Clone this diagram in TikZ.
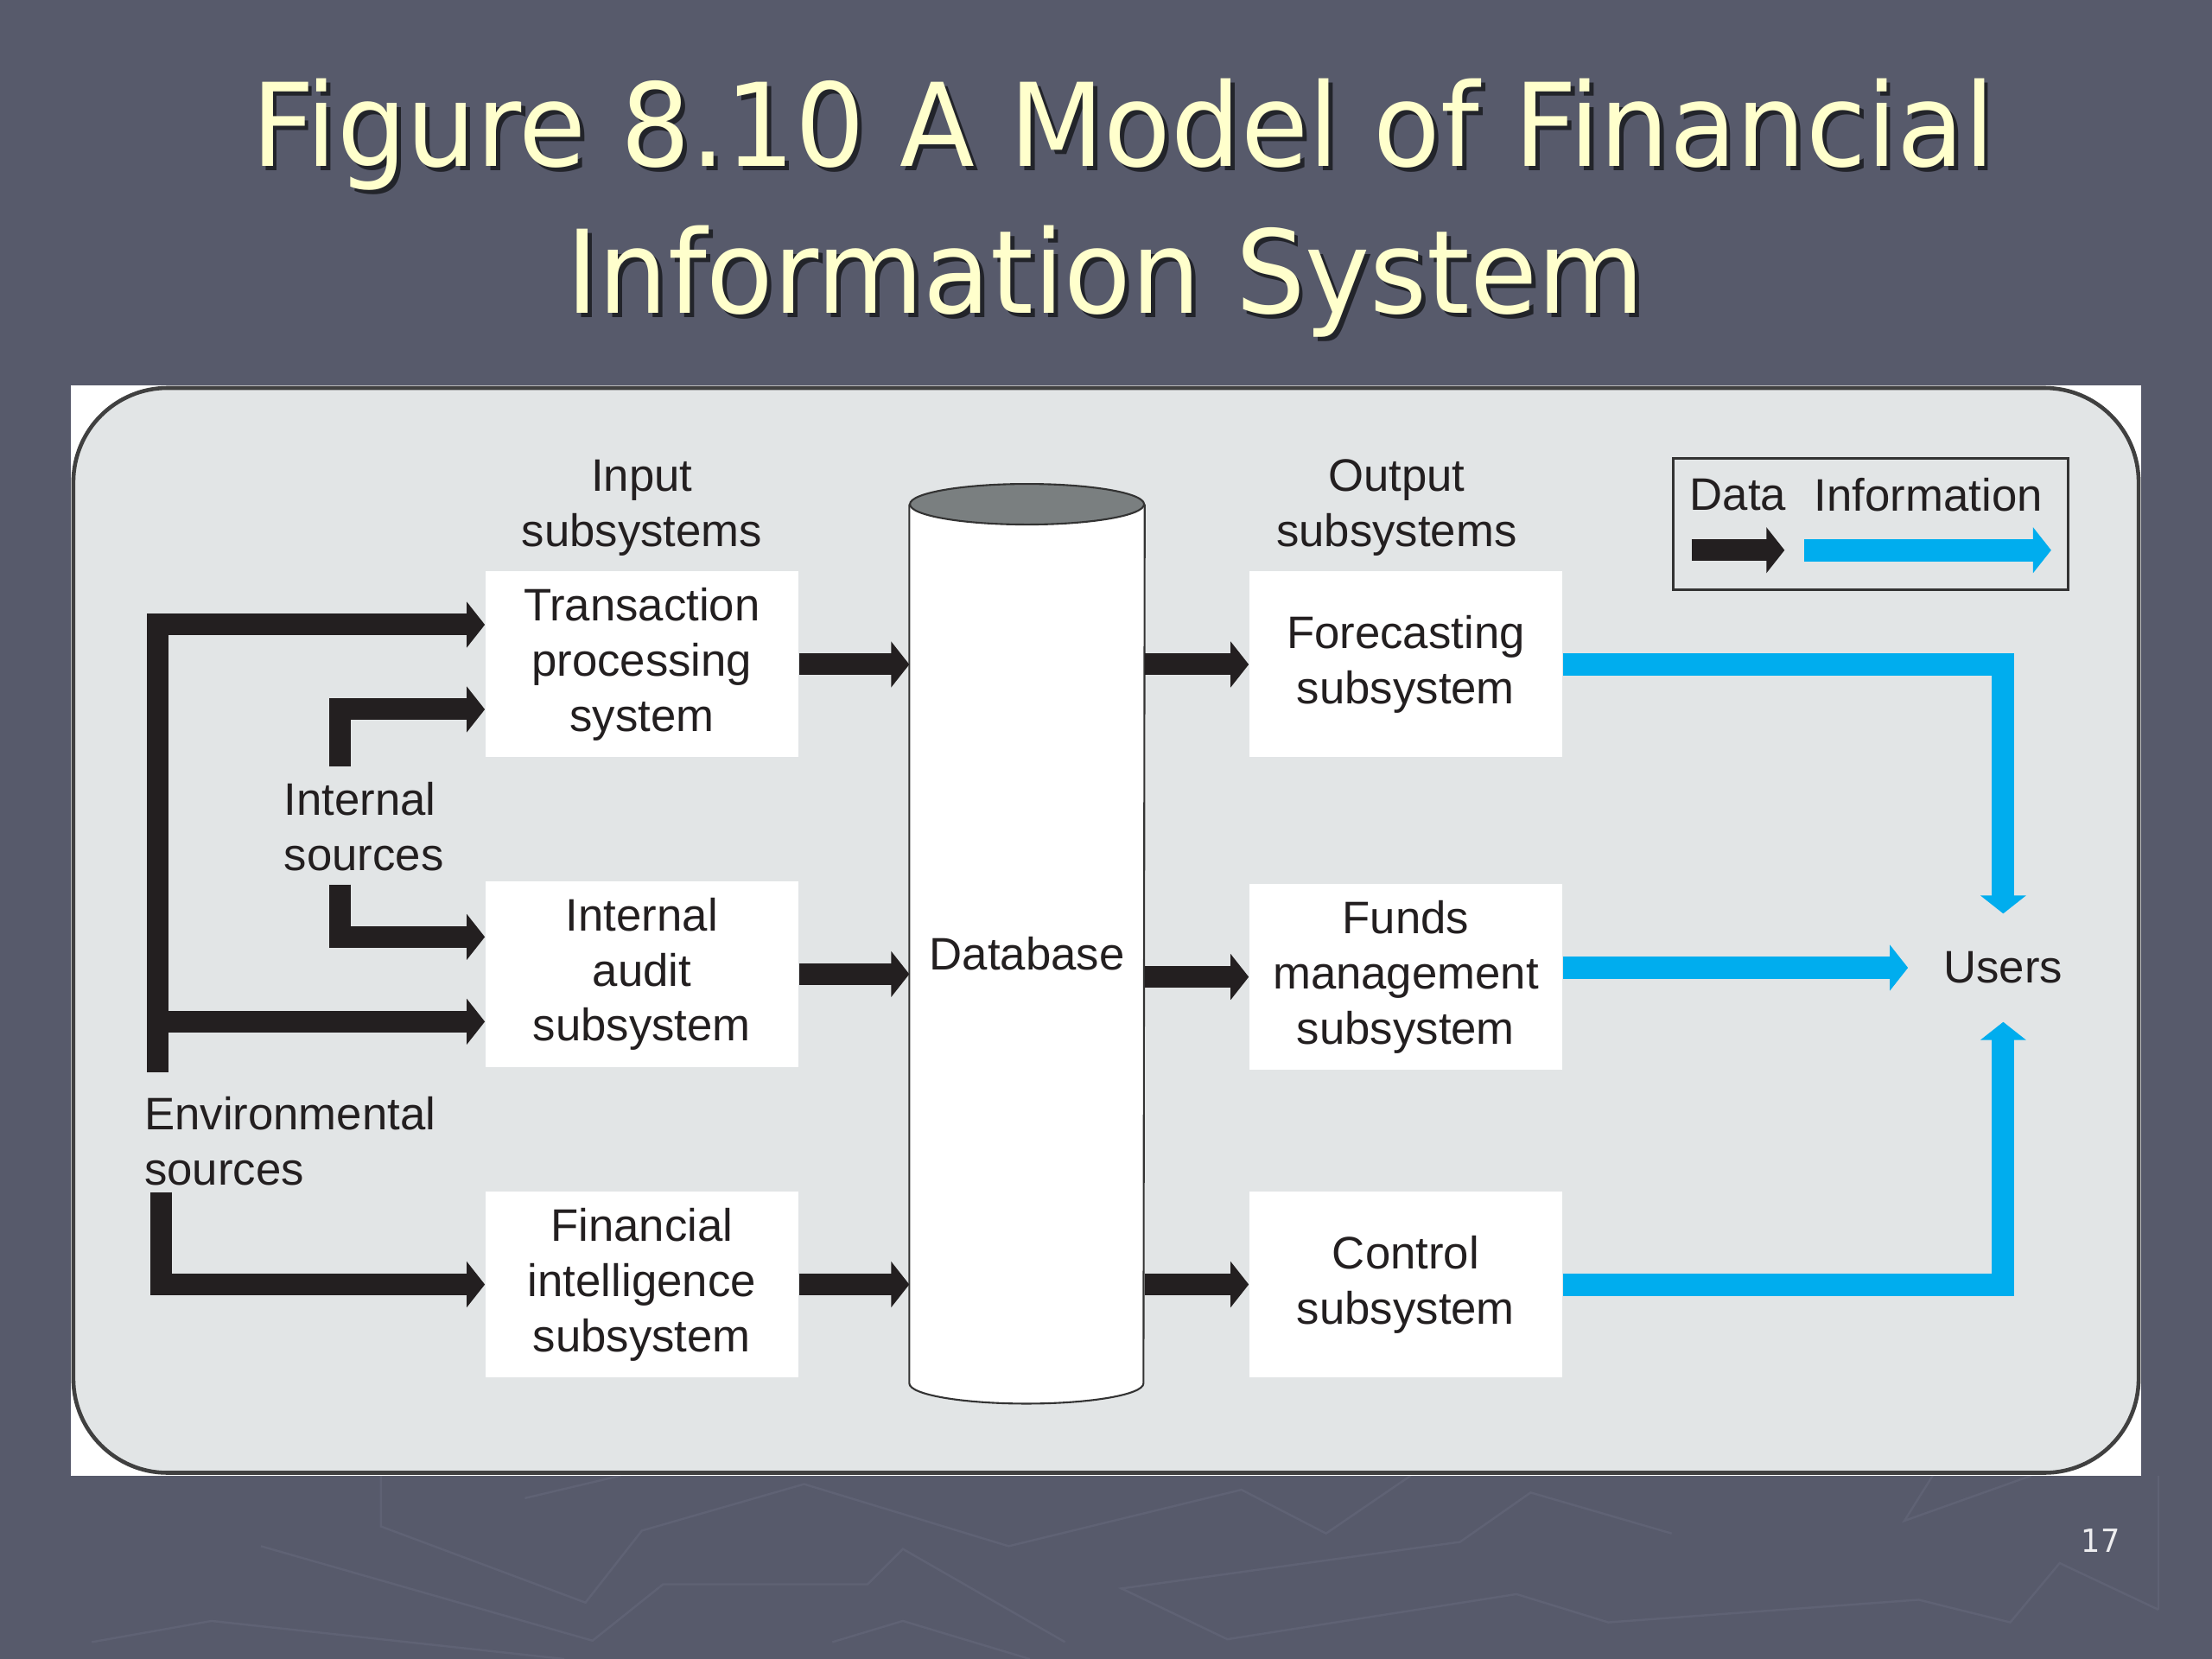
\documentclass[tikz,border=0pt]{standalone}
\usepackage{fontspec}
\setmainfont{Liberation Sans}
\newfontfamily\titlefont[FakeStretch=0.95]{DejaVu Sans}
\usetikzlibrary{arrows.meta}
\definecolor{slide}{HTML}{575A6B}
\definecolor{streak}{HTML}{5F6274}
\definecolor{panel}{HTML}{E2E5E6}
\definecolor{ink}{HTML}{231F20}
\definecolor{infoblue}{HTML}{00ADEE}
\definecolor{dbtop}{HTML}{7A7F80}
\definecolor{titleyellow}{HTML}{FFFFCC}
\tikzset{
  sub/.style = {fill=white, minimum width=3.62cm, minimum height=2.15cm,
    inner sep=0pt, align=center},
  lbl/.style = {align=center, inner sep=0pt},
  ttl/.style = {font=\titlefont\fontsize{38}{46}\selectfont, anchor=base, inner sep=0pt},
  data/.style = {draw=ink, line width=0.25cm, -{Triangle[length=0.21cm,width=0.52cm]}},
  info/.style = {draw=infoblue, line width=0.26cm, -{Triangle[length=0.21cm,width=0.52cm]}}
}

\begin{document}
\begin{tikzpicture}[x=0.016327cm, y=-0.016327cm, font=\fontsize{15}{18.2}\selectfont, text=ink]
  \fill[slide] (0,0) rectangle (1568,1176);
  \useasboundingbox (0,0) rectangle (1568,1176);
  % faint streaks of the slide background
  \begin{scope}[streak, line width=0.7pt]
    \draw (270,1046) -- (270,1082) -- (415,1136) -- (455,1085) -- (570,1052) -- (715,1096)
      -- (880,1056) -- (940,1087) -- (1000,1046);
    \draw (372,1062) -- (440,1046);
    \draw (1185,1087) -- (1085,1058) -- (1035,1093) -- (795,1126) -- (870,1162) -- (1075,1130)
      -- (1140,1150) -- (1360,1134) -- (1425,1150) -- (1460,1108) -- (1530,1141);
    \draw (185,1096) -- (420,1163) -- (470,1123) -- (615,1123) -- (640,1098) -- (755,1164);
    \draw (65,1164) -- (150,1149) -- (400,1176);
    \draw (590,1164) -- (640,1149) -- (730,1176);
    \draw (1440,1046) -- (1350,1078) -- (1370,1046);
    \draw (1530,1046) -- (1530,1141);
  \end{scope}
  % title
  \node[ttl, text=black, opacity=0.6] (ttlash) at (799,121) {Figure 8.10 A Model of Financial};
  \node[ttl, text=titleyellow] (ttla) at (796,118) {Figure 8.10 A Model of Financial};
  \node[ttl, text=black, opacity=0.6] (ttlbsh) at (786.5,225) {Information System};
  \node[ttl, text=titleyellow] (ttlb) at (783.5,222) {Information System};
  \node[text=white!90!slide, font=\titlefont\fontsize{10.5}{12}\selectfont] (pageno) at (1489,1092) {17};
  % figure panel
  \fill[white] (50,273) rectangle (1518,1046);
  \draw[fill=panel, draw=black!75, line width=1.3pt, rounded corners=1.09cm] (52,275) rectangle (1516,1044);
  % database
  \node[minimum width=2.71cm, minimum height=10.16cm, inner sep=0pt] (db) at (728,669) {};
  \draw[black!80, line width=0.6pt, fill=white] (db.north west) -- (db.south west)
    arc[start angle=180, end angle=360, x radius=1.355cm, y radius=0.235cm] -- (db.north east);
  \draw[black!80, line width=0.6pt, fill=dbtop] (db.north) ellipse[x radius=1.355cm, y radius=0.235cm];
  \node[yshift=-0.11cm] (dblabel) at (db) {Database};
  % input side
  \node[lbl] (insub) at (455,360) {Input\\subsystems};
  \node[sub] (tps) at (455,471) {Transaction\\processing\\system};
  \node[sub] (audit) at (455,690.5) {Internal\\audit\\subsystem};
  \node[sub] (fis) at (455,910.5) {Financial\\intelligence\\subsystem};
  % output side
  \node[lbl] (outsub) at (990,360) {Output\\subsystems};
  \node[sub] (fcs) at (996.5,471) {Forecasting\\subsystem};
  \node[sub] (funds) at (996.5,692.5) {Funds\\management\\subsystem};
  \node[sub] (ctrl) at (996.5,910.5) {Control\\subsystem};
  \node[lbl, minimum width=2.19cm, minimum height=1.24cm] (users) at (1420,686) {Users};
  % sources
  \node[lbl, align=left, anchor=west] (intsrc) at (201,586) {Internal\\sources};
  \node[lbl, align=left, anchor=west] (envsrc) at (102,809) {Environmental\\sources};
  \coordinate (envin) at (112,760);
  \coordinate (envfi) at (114,845);
  \coordinate (inttop) at (241,543);
  \coordinate (intbot) at (241,627);
  \coordinate (tpshigh) at ([yshift=0.46cm]tps.west);
  \coordinate (tpslow) at ([yshift=-0.52cm]tps.west);
  \coordinate (audithigh) at ([yshift=0.43cm]audit.west);
  \coordinate (auditlow) at ([yshift=-0.55cm]audit.west);
  % data flows
  \draw[data] (envin) |- (tpshigh);
  \draw[data] (envin |- auditlow) -- (auditlow);
  \draw[data] (envfi) |- (fis.west);
  \draw[data] (inttop) |- (tpslow);
  \draw[data] (intbot) |- (audithigh);
  \foreach \s in {tps,audit,fis}
    \draw[data] (\s.east) -- (\s.east -| db.west);
  \foreach \s in {fcs,funds,ctrl}
    \draw[data] (db.east |- \s.west) -- (\s.west);
  % information flows
  \draw[info] (fcs.east) -| (users.north);
  \draw[info] (funds.east |- users.west) -- (users.west);
  \draw[info] (ctrl.east) -| (users.south);
  % legend
  \node[draw=black!80, line width=1pt, minimum width=4.57cm, minimum height=1.52cm] (legend) at (1326,371.5) {};
  \node (ldata) at (1232,351) {Data};
  \node (linfo) at (1367,351) {Information};
  \coordinate (ld1) at (1199,390);
  \coordinate (ld2) at (1265,390);
  \coordinate (li1) at (1279,390);
  \coordinate (li2) at (1454,390);
  \draw[data] (ld1) -- (ld2);
  \draw[info] (li1) -- (li2);
\end{tikzpicture}
\end{document}
